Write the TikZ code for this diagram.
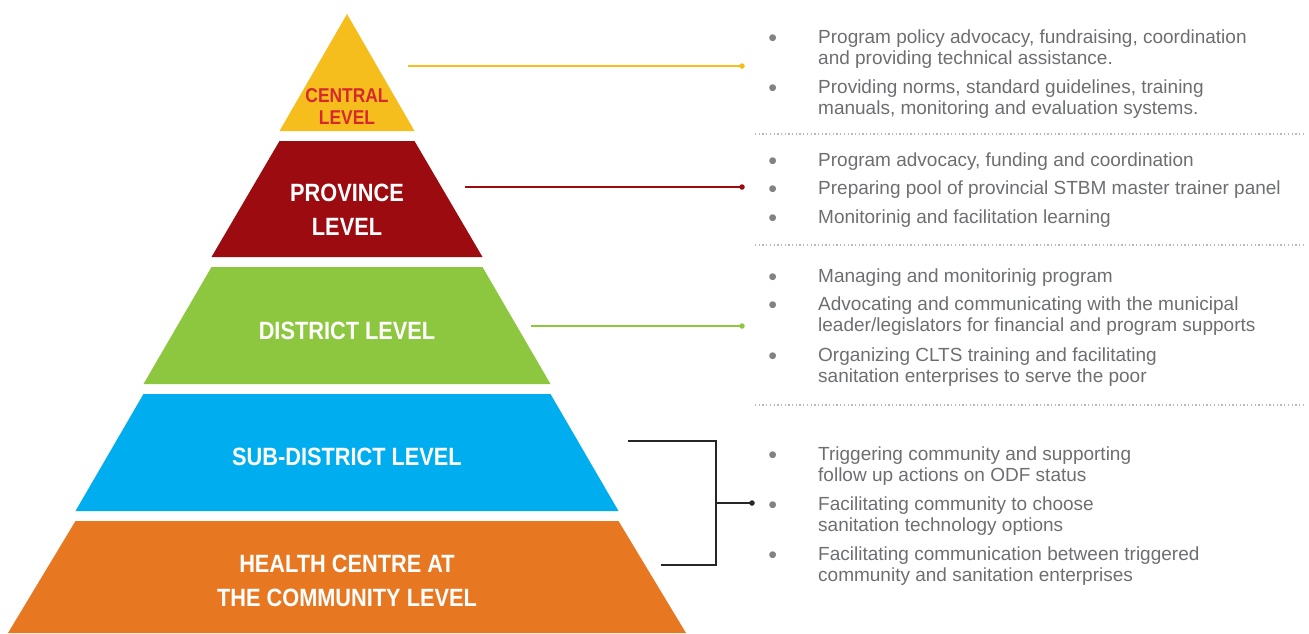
\documentclass[tikz,border=0pt]{standalone}
\usepackage{fontspec}
\setmainfont{Liberation Sans}
\newfontfamily\lvlfont[FakeStretch=0.87]{Liberation Sans}
\usetikzlibrary{positioning}

\definecolor{cyellow}{HTML}{F5BE1C}
\definecolor{cred}{HTML}{9B0B10}
\definecolor{cgreen}{HTML}{8DC63F}
\definecolor{cblue}{HTML}{00AEEF}
\definecolor{corange}{HTML}{E87722}
\definecolor{ctext}{HTML}{6D6E71}
\definecolor{cbullet}{HTML}{808285}
\definecolor{clabel}{HTML}{D7282F}

\newcommand\bul{\llap{\raisebox{-3pt}{\textcolor{cbullet}{\fontsize{25}{0}\selectfont\textbullet}}\hspace{41pt}}}

\tikzset{
  level/.style={font=\lvlfont\bfseries\fontsize{25}{34}\selectfont, text=white, align=center, inner sep=0pt},
  item/.style={anchor=base west, align=left, text=ctext, font=\fontsize{19}{21.5}\selectfont, inner sep=0pt},
  dot/.style={circle, fill, inner sep=0pt, minimum size=5.5pt},
  sep/.style={gray!55, line width=1.3pt, dash pattern=on 1.3pt off 2.4pt},
  link/.style={line width=1.2pt},
}

\begin{document}
\begin{tikzpicture}[x=1pt, y=-1pt]
\useasboundingbox (0,0) rectangle (1309,633);

% pyramid bands
\foreach \c/\yt/\yb/\wt/\wb in {cyellow/14/131/0/67.5, cred/141/257/67.5/135.5,
    cgreen/267/384/135.5/203.5, cblue/394/511/203.5/271.5, corange/521/633/271.5/339}
  \fill[\c] (347-\wt,\yt) -- (347+\wt,\yt) -- (347+\wb,\yb) -- (347-\wb,\yb) -- cycle;

\node[level, text=clabel, font=\lvlfont\bfseries\fontsize{20}{22}\selectfont] (central) at (347,107) {CENTRAL\\LEVEL};
\node[level] (province) at (347,210) {PROVINCE\\LEVEL};
\node[level] (district) at (347,331) {DISTRICT LEVEL};
\node[level] (subdistrict) at (347,457) {SUB-DISTRICT LEVEL};
\node[level] (health) at (347,581) {HEALTH CENTRE AT\\THE COMMUNITY LEVEL};

% tasks per level (base = last line)
\node[item] (c1) at (818,64.5) {\bul Program policy advocacy, fundraising, coordination\\and providing technical assistance.};
\node[item] (c2) at (818,114.5) {\bul Providing norms, standard guidelines, training\\manuals, monitoring and evaluation systems.};

\node[item] (p1) at (818,166) {\bul Program advocacy, funding and coordination};
\node[item] (p2) at (818,194) {\bul Preparing pool of provincial STBM master trainer panel};
\node[item] (p3) at (818,223) {\bul Monitorinig and facilitation learning};

\node[item] (d1) at (818,282) {\bul Managing and monitorinig program};
\node[item] (d2) at (818,331.5) {\bul Advocating and communicating with the municipal\\leader/legislators for financial and program supports};
\node[item] (d3) at (818,382.5) {\bul Organizing CLTS training and facilitating\\sanitation enterprises to serve the poor};

\node[item] (s1) at (818,481.5) {\bul Triggering community and supporting\\follow up actions on ODF status};
\node[item] (s2) at (818,531.5) {\bul Facilitating community to choose\\sanitation technology options};
\node[item] (s3) at (818,581.5) {\bul Facilitating communication between triggered\\community and sanitation enterprises};

% separators
\foreach \y in {134,245,405}
  \draw[sep] (755,\y) -- (1306,\y);

% connectors
\coordinate (central-in) at (408,66);
\coordinate (central-out) at (742,66);
\coordinate (province-in) at (465,187);
\coordinate (province-out) at (742,187);
\coordinate (district-in) at (531,326);
\coordinate (district-out) at (742,326);
\coordinate (sub-in) at (628,441);
\coordinate (health-in) at (661,565);
\coordinate (brace-mid) at (716,503);
\coordinate (brace-out) at (752,503);

\draw[link, cyellow] (central-in) -- (central-out) node[dot] {};
\draw[link, cred] (province-in) -- (province-out) node[dot] {};
\draw[link, cgreen] (district-in) -- (district-out) node[dot] {};
\draw[link, black!85] (sub-in) -| (brace-mid) |- (health-in);
\draw[link, black!85] (brace-mid) -- (brace-out) node[dot] {};
\end{tikzpicture}
\end{document}
